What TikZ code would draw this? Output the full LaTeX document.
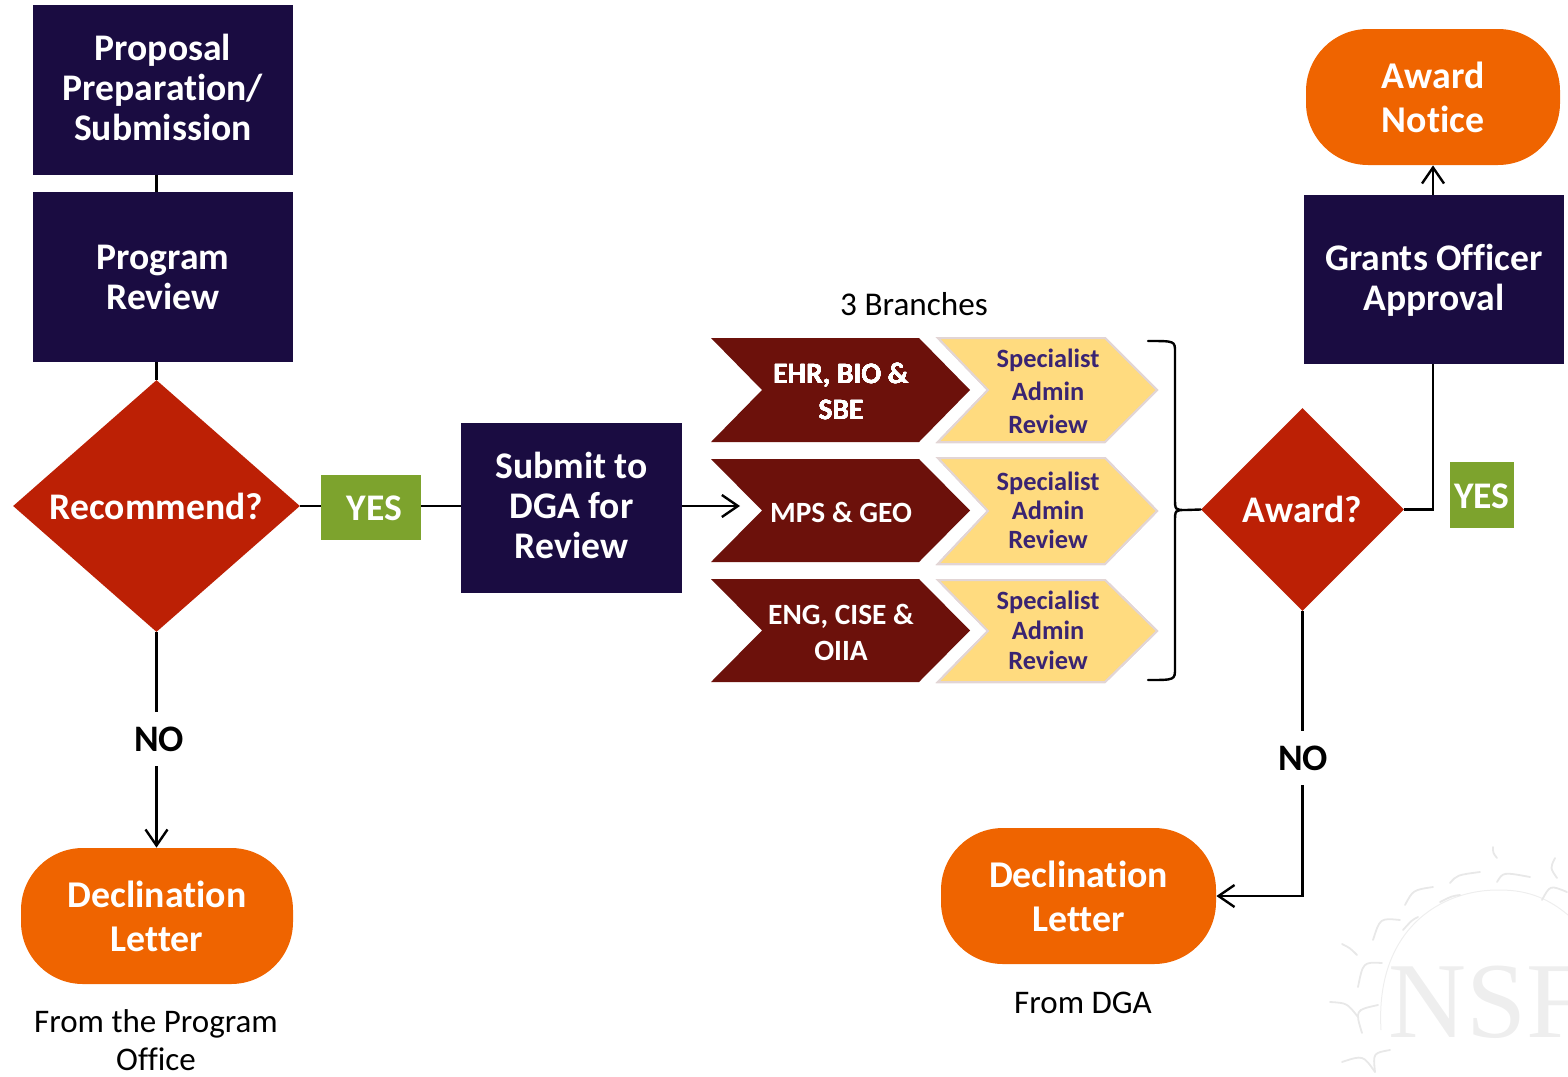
\documentclass[tikz,border=0pt]{standalone}
\usepackage{fontspec}
\setmainfont[Ligatures=NoCommon]{Carlito}
\newfontfamily\sealfont{Liberation Serif}
\usetikzlibrary{arrows.meta,shapes.geometric}
\definecolor{navyfill}{HTML}{1A0C41}
\definecolor{redfill}{HTML}{BC2005}
\definecolor{orangefill}{HTML}{EF6400}
\definecolor{maroonfill}{HTML}{6C110B}
\definecolor{yellowfill}{HTML}{FFDB7F}
\definecolor{yellowedge}{HTML}{E2D5D5}
\definecolor{purpletext}{HTML}{3A2472}
\definecolor{greenfill}{HTML}{7DA32D}
\definecolor{sealgray}{HTML}{E8E8E8}
\definecolor{sealtext}{HTML}{EEEEEE}
\tikzset{
	navybox/.style={fill=navyfill, text=white, font=\fontsize{18.8}{20}\selectfont\bfseries, align=center, minimum width=130pt, minimum height=85pt, inner sep=0},
	decision/.style={diamond, fill=redfill, text=white, font=\fontsize{18.8}{21}\selectfont\bfseries, inner sep=0},
	letterbox/.style={fill=orangefill, text=white, rounded corners=31pt, font=\fontsize{18.9}{22}\selectfont\bfseries, align=center, minimum height=68pt, inner sep=0},
	yesbox/.style={fill=greenfill, draw=none, minimum height=33pt, inner sep=0},
	yestext/.style={text=white, font=\fontsize{18.8}{21}\selectfont\bfseries, inner sep=0},
	nolabel/.style={font=\fontsize{18.7}{21}\selectfont\bfseries, minimum height=27pt, inner sep=0},
	note/.style={font=\fontsize{16.5}{19}\selectfont, align=center, inner sep=0},
	branchtext/.style={text=white, font=\fontsize{14.7}{18}\selectfont\bfseries, align=center, inner sep=0},
	flow/.style={line width=1.2pt, draw=black},
	flowarrow/.style={flow, -{Straight Barb[length=8pt,width=11pt,line width=1.2pt]}},
}
% left, notch, shoulder, tip, top, bottom
\def\chevronbox[#1](#2,#3,#4,#5,#6,#7){\draw[#1] (#2,#6) -- (#4,#6) -- (#5,{(#6+#7)/2}) -- (#4,#7) -- (#2,#7) -- (#3,{(#6+#7)/2}) -- cycle;}
% lift the text of a box, the box stays where it is
\def\liftbox#1#2{\raisebox{#1}[\height][\depth]{\parbox{110pt}{\centering #2}}}

\begin{document}
\begin{tikzpicture}[x=0.5pt,y=-0.5pt]
	\useasboundingbox (0,0) rectangle (1568,1076);
	
	% seal in the corner
	\node[anchor=base west, inner sep=0, text=sealtext, font=\fontsize{54}{54}\sealfont] (seal) at (1388,1037) {NSF};
	\begin{scope}
		\clip (1300,820) rectangle (1568,1076);
		\draw[sealtext, line width=0.5pt] (1381,1030) .. controls (1375,930) and (1440,889) .. (1500,890) .. controls (1530,890) and (1550,900) .. (1568,915);
		\foreach \ax/\ay/\bx/\by/\cx/\cy in {1450/883/1457/875/1480/872, 1497/882/1503/872/1530/877, 1542/900/1550/885/1567/892, 1405/905/1413/890/1433/887, 1373/940/1380/918/1400/920, 1358/987/1363/962/1382/963, 1362/1033/1355/1010/1378/1005, 1330/1002/1347/1003/1358/1017, 1342/1062/1363/1055/1375/1072, 1375/1072/1373/1053/1390/1050, 1342/944/1350/948/1357/955, 1493/847/1493/853/1497/858, 1555/858/1550/868/1557/878, 1403/930/1412/920/1418/917, 1440/902/1452/896/1460/895}
			\draw[sealgray, line width=0.9pt, line cap=round] (\ax,\ay) .. controls (\bx,\by) .. (\cx,\cy);
	\end{scope}
	
	% left column
	\node[navybox] (proposal) at (163,90) {\liftbox{1.5pt}{Proposal\\Preparation/\\Submission}};
	\node[navybox] (review) at (163,277) {Program\\Review};
	\node[decision, minimum width=143.5pt, minimum height=126pt] (recommend) at (156.5,506) {Recommend?};
	\node[nolabel] (noleft) at (159,739) {NO};
	\node[letterbox, minimum width=136pt] (declineleft) at (157,916) {Declination\\Letter};
	\node[note] (fromoffice) at (156,1040) {From the Program\\Office};
	
	\draw[flow] (proposal.south -| recommend.north) -- (review.north -| recommend.north);
	\draw[flow] (review.south -| recommend.north) -- (recommend.north);
	\draw[flow] (recommend.south) -- (recommend.south |- noleft.north);
	\draw[flowarrow] (recommend.south |- noleft.south) -- (declineleft.north -| recommend.south);
	
	% middle
	\node[yesbox, minimum width=50pt, minimum height=32.5pt] (yesleft) at (371,507.5) {};
	\node[yestext] (yesleftlabel) at (374.5,508) {YES};
	\node[navybox, minimum width=110.5pt] (submit) at (571.5,508) {\liftbox{1.5pt}{Submit to\\DGA for\\Review}};
	\coordinate (mpsin) at (740,506);
	
	\draw[flow] (recommend.east) -- (yesleft.west |- recommend.east);
	\draw[flow] (yesleft.east |- recommend.east) -- (submit.west |- recommend.east);
	\draw[flowarrow] (submit.east |- mpsin) -- (mpsin);
	
	% branches
	\node[font=\fontsize{16.6}{18}\selectfont, inner sep=0] (branches) at (914,304) {3 Branches};
	\foreach \top/\bot in {338/442, 459/562, 579/682}
		\chevronbox[fill=maroonfill, draw=none](711,762,919,970,\top,\bot)
	\foreach \top/\bot in {338/442, 458/564, 580/682}
		\chevronbox[fill=yellowfill, draw=yellowedge, line width=1pt](938,988,1105,1157,\top,\bot)
	\node[branchtext] (ehr) at (841,391) {EHR, BIO \&\\SBE};
	\node[branchtext] (mps) at (841,512) {MPS \& GEO};
	\node[branchtext] (eng) at (841,632) {ENG, CISE \&\\OIIA};
	\node[text=purpletext, align=center, inner sep=0, font=\fontsize{13.2}{16.5}\selectfont\bfseries] (reviewa) at (1048,391) {Specialist\\Admin\\Review};
	\node[text=purpletext, align=center, inner sep=0, font=\fontsize{13.2}{14.5}\selectfont\bfseries] (reviewb) at (1048,510) {Specialist\\Admin\\Review};
	\node[text=purpletext, align=center, inner sep=0, font=\fontsize{13.2}{15}\selectfont\bfseries] (reviewc) at (1048,630) {Specialist\\Admin\\Review};
	
	% right column
	\node[decision, minimum width=101.5pt, minimum height=101.5pt] (award) at (1302.5,509.5) {Award?};
	\draw[flow, line cap=round] (1148,341) .. controls (1175,341) and (1175,341) .. (1175,352) -- (1175,498) .. controls (1175,510) and (1175,510) .. (1186,510) -- (award.west) (1186,510) .. controls (1175,510) and (1175,510) .. (1175,522) -- (1175,668) .. controls (1175,680) and (1175,680) .. (1148,680);
	\node[letterbox, minimum width=127pt] (notice) at (1433,97) {Award\\Notice};
	\node[navybox, minimum height=84.5pt] (grants) at (1434,279.5) {\liftbox{-0.5pt}{Grants Officer\\Approval}};
	\node[yesbox, minimum width=32pt, minimum height=33pt] (yesright) at (1482,495) {};
	\node[yestext] (yesrightlabel) at (1482,496) {YES};
	\node[nolabel] (noright) at (1303,758) {NO};
	\node[letterbox, minimum width=137.5pt] (declineright) at (1078.5,896) {Declination\\Letter};
	\node[note] (fromdga) at (1083,1003) {From DGA};
	
	\draw[flowarrow] (grants.north -| notice.south) -- (notice.south);
	\draw[flow] (award.east) -| (notice.south |- grants.south);
	\draw[flow] (award.south) -- (award.south |- noright.north);
	\draw[flowarrow] (award.south |- noright.south) |- (declineright.east);
\end{tikzpicture}
\end{document}
